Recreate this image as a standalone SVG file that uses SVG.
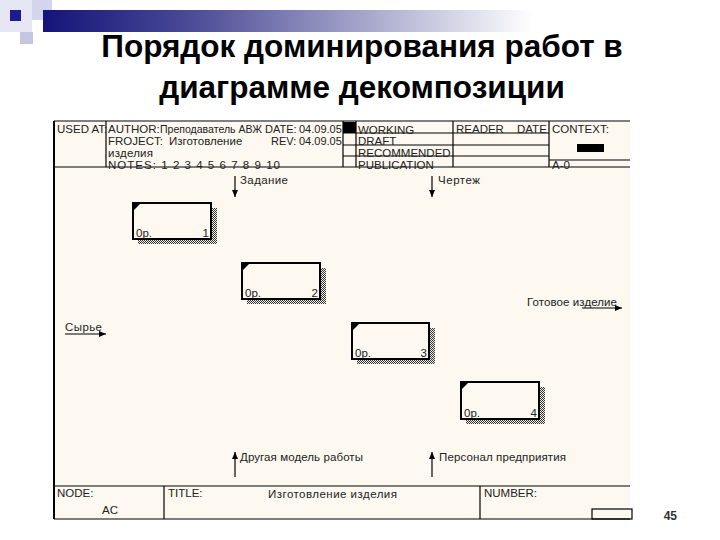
<svg xmlns="http://www.w3.org/2000/svg" width="720" height="540" viewBox="0 0 720 540">
<defs>
<linearGradient id="bar" x1="0" x2="1" y1="0" y2="0">
<stop offset="0" stop-color="#14147a"/>
<stop offset="0.3" stop-color="#4a4a96"/>
<stop offset="1" stop-color="#ffffff"/>
</linearGradient>
<pattern id="hatch" width="2" height="2" patternUnits="userSpaceOnUse">
<rect width="2" height="2" fill="#f4f0e6"/>
<rect width="1" height="1" fill="#333"/>
<rect x="1" y="1" width="1" height="1" fill="#333"/>
</pattern>
<marker id="arr" markerWidth="8" markerHeight="8" refX="7" refY="4" orient="auto" markerUnits="userSpaceOnUse">
<path d="M0,1 L7,4 L0,7 Z" fill="#000"/>
</marker>
<style>
.t{font-family:"Liberation Sans",Arial,sans-serif;font-size:11.5px;fill:#222}
.h{font-family:"Liberation Sans",Arial,sans-serif;font-size:11.5px;fill:#222}
.s{font-family:"Liberation Sans",Arial,sans-serif;font-size:11px;fill:#222}
.ln{stroke:#000;stroke-width:1.2;fill:none}
.box{fill:#fdf9f0;stroke:#000;stroke-width:2}
.sh{fill:url(#hatch)}
.conn{stroke:#000;stroke-width:1.2;fill:none;marker-end:url(#arr)}
.title{font-family:"Liberation Sans",Arial,sans-serif;font-size:31.5px;font-weight:bold;fill:#000;text-anchor:middle}
</style>
</defs>
<rect width="720" height="540" fill="#ffffff"/>
<g id="decor">
<rect x="0" y="0" width="32" height="32" fill="#e6e6f4"/>
<rect x="10" y="10" width="11" height="11" fill="#1c1c8c"/>
<rect x="32" y="0" width="20" height="20" fill="#d4d4ec"/>
<rect x="20" y="32" width="13" height="12" fill="#c6c6e2"/>
<rect x="43" y="10" width="490" height="22" fill="url(#bar)"/>
</g>
<g id="title">
<text class="title" x="362" y="57">Порядок доминирования работ в</text>
<text class="title" x="362" y="98">диаграмме декомпозиции</text>
</g>
<g id="frame">
<rect x="55" y="122" width="575" height="397" fill="#fdf9f0"/>
<line class="ln" x1="54" y1="121" x2="54" y2="519" style="stroke-width:2"/>
<line class="ln" x1="54" y1="121" x2="630" y2="121"/>
<line class="ln" x1="54" y1="167" x2="630" y2="167"/>
<line class="ln" x1="106" y1="121" x2="106" y2="167"/>
<line class="ln" x1="343" y1="121" x2="343" y2="167"/>
<line class="ln" x1="356" y1="121" x2="356" y2="167"/>
<line class="ln" x1="453" y1="121" x2="453" y2="167"/>
<line class="ln" x1="549" y1="121" x2="549" y2="167"/>
<rect x="343" y="122" width="13" height="11" fill="#000"/>
<line class="ln" x1="343" y1="133" x2="549" y2="133"/>
<line class="ln" x1="343" y1="145" x2="549" y2="145"/>
<line class="ln" x1="343" y1="156" x2="549" y2="156"/>
<line class="ln" x1="549" y1="160" x2="630" y2="160"/>
<rect x="577" y="144" width="27" height="8" fill="#000"/>
<text class="h" x="57" y="133">USED AT:</text>
<text class="h" x="108" y="133">AUTHOR:</text>
<text class="s" x="160" y="133" textLength="102" lengthAdjust="spacingAndGlyphs">Преподаватель АВЖ</text>
<text class="s" x="265" y="133">DATE:</text>
<text class="s" x="299" y="133">04.09.05</text>
<text class="h" x="108" y="145">FROJECT:</text>
<text class="h" x="169" y="145">Изготовление</text>
<text class="s" x="271" y="145">REV:</text>
<text class="s" x="299" y="145">04.09.05</text>
<text class="t" x="108" y="157" textLength="45" lengthAdjust="spacing">изделия</text>
<text class="h" x="108" y="169" textLength="172" lengthAdjust="spacing">NOTES:  1  2  3  4  5  6  7  8  9  10</text>
<text class="h" x="358" y="134">WORKING</text>
<text class="h" x="358" y="145">DRAFT</text>
<text class="h" x="358" y="157">RECOMMENDED</text>
<text class="h" x="358" y="169">PUBLICATION</text>
<text class="h" x="456" y="133">READER</text>
<text class="h" x="517" y="133">DATE</text>
<text class="h" x="552" y="133">CONTEXT:</text>
<text class="h" x="552" y="169">A-0</text>
<line class="ln" x1="54" y1="486" x2="630" y2="486"/>
<line class="ln" x1="54" y1="519" x2="630" y2="519"/>
<line class="ln" x1="164" y1="486" x2="164" y2="519"/>
<line class="ln" x1="480" y1="486" x2="480" y2="519"/>
<rect class="ln" x="592" y="509" width="40" height="10"/>
<text class="h" x="57" y="497">NODE:</text>
<text class="h" x="102" y="514">AC</text>
<text class="h" x="168" y="497">TITLE:</text>
<text class="t" x="268" y="498" textLength="129" lengthAdjust="spacing">Изготовление  изделия</text>
<text class="h" x="484" y="497">NUMBER:</text>
</g>
<g id="box1">
<rect class="sh" x="211" y="208" width="6" height="36"/>
<rect class="sh" x="138" y="239" width="73" height="5"/>
<rect class="box" x="133" y="203" width="78" height="36"/>
<path d="M134,204 L140,204 L134,210 Z" fill="#000"/>
<text class="t" x="136" y="237">0р.</text>
<text class="t" x="209" y="237" text-anchor="end">1</text>
</g>
<g id="box2">
<rect class="sh" x="320" y="268" width="6" height="36"/>
<rect class="sh" x="247" y="299" width="73" height="5"/>
<rect class="box" x="242" y="263" width="78" height="36"/>
<path d="M243,264 L249,264 L243,270 Z" fill="#000"/>
<text class="t" x="245" y="297">0р.</text>
<text class="t" x="318" y="297" text-anchor="end">2</text>
</g>
<g id="box3">
<rect class="sh" x="429" y="328" width="6" height="36"/>
<rect class="sh" x="357" y="359" width="72" height="5"/>
<rect class="box" x="352" y="323" width="77" height="36"/>
<path d="M353,324 L359,324 L353,330 Z" fill="#000"/>
<text class="t" x="355" y="357">0р.</text>
<text class="t" x="427" y="357" text-anchor="end">3</text>
</g>
<g id="box4">
<rect class="sh" x="539" y="387" width="6" height="37"/>
<rect class="sh" x="466" y="419" width="73" height="5"/>
<rect class="box" x="461" y="382" width="78" height="37"/>
<path d="M462,383 L468,383 L462,389 Z" fill="#000"/>
<text class="t" x="464" y="417">0р.</text>
<text class="t" x="537" y="417" text-anchor="end">4</text>
</g>
<g id="connectors">
<line class="conn" x1="235" y1="176" x2="235" y2="197"/>
<line class="conn" x1="432" y1="176" x2="432" y2="197"/>
<line class="conn" x1="65" y1="334" x2="106" y2="334"/>
<line class="conn" x1="582" y1="308" x2="622" y2="308"/>
<line class="conn" x1="235" y1="477" x2="235" y2="452"/>
<line class="conn" x1="432" y1="477" x2="432" y2="452"/>
</g>
<g id="labels">
<text class="t" x="240" y="184" textLength="48" lengthAdjust="spacing">Задание</text>
<text class="t" x="438" y="184" textLength="42" lengthAdjust="spacing">Чертеж</text>
<text class="t" x="65" y="331" textLength="37" lengthAdjust="spacing">Сырье</text>
<text class="t" x="527" y="306" textLength="90" lengthAdjust="spacing">Готовое изделие</text>
<text class="t" x="240" y="461" textLength="123" lengthAdjust="spacing">Другая модель работы</text>
<text class="t" x="439" y="461" textLength="127" lengthAdjust="spacing">Персонал предприятия</text>
</g>
<text x="677" y="520" text-anchor="end" style="font-family:'Liberation Sans',Arial,sans-serif;font-size:12px;font-weight:bold;fill:#333">45</text>
</svg>
